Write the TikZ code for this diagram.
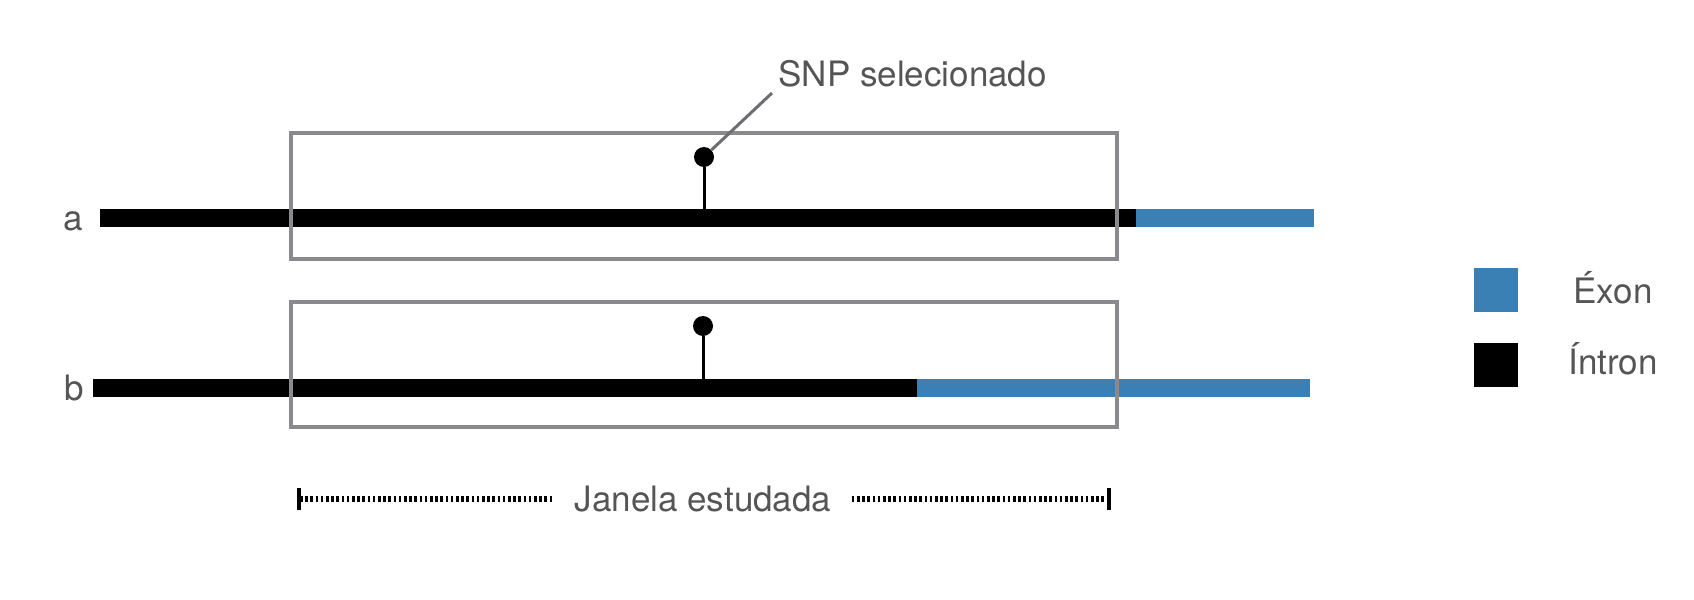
\documentclass[tikz,border=0pt]{standalone}
\usepackage{fontspec}
\setmainfont{TeX Gyre Heros}
\usetikzlibrary{positioning,arrows.meta}
\definecolor{exonblue}{RGB}{59,128,180}
\definecolor{txtgray}{RGB}{85,85,85}
\definecolor{boxgray}{RGB}{138,138,142}

\begin{document}
\begin{tikzpicture}[x=0.5pt, y=-0.5pt,
  lbl/.style={font=\fontsize{17.5}{20}\selectfont, text=txtgray, inner sep=0pt},
  win/.style={draw=boxgray, line width=1.6pt},
  intron/.style={fill=black},
  exon/.style={fill=exonblue},
  snp/.style={circle, fill=black, inner sep=0pt, minimum size=10pt},
  stem/.style={line width=1.5pt},
  leader/.style={draw=boxgray!80!black, line width=1.5pt},
  ruler/.style={line width=2.6pt, dash pattern=on 1.3pt off 1.3pt},
  key/.style={minimum size=22pt, inner sep=0pt}]
  \useasboundingbox (0,0) rectangle (1694,600);
  % sequence a
  \node[lbl, anchor=base] (la) at (73,230) {a};
  \fill[intron] (100,209) rectangle (1136,227);
  \fill[exon] (1136,209) rectangle (1314,227);
  \draw[win] (291,133) rectangle (1117,259);
  \node[snp] (s1) at (704,157) {};
  \coordinate (t1) at (704,209);
  \draw[stem] (s1) -- (t1);
  % sequence b
  \node[lbl, anchor=base] (lb) at (74,400) {b};
  \fill[intron] (93,379) rectangle (917,397);
  \fill[exon] (917,379) rectangle (1310,397);
  \draw[win] (291,302) rectangle (1117,427);
  \node[snp] (s2) at (703,326) {};
  \coordinate (t2) at (703,379);
  \draw[stem] (s2) -- (t2);
  % label of the SNP
  \node[lbl, anchor=base west] (snpl) at (778,86) {SNP selecionado};
  \coordinate (lead) at (772,93);
  \draw[leader] (s1) -- (lead);
  % studied window
  \node[lbl, anchor=base, inner xsep=10pt] (jan) at (703,511) {Janela estudada};
  \coordinate (jl) at (297,499);
  \coordinate (jr) at (1111,499);
  \draw[ruler, {Bar[width=11pt, line width=2pt]}-] (jl) -- (jan.west |- jl);
  \draw[ruler, -{Bar[width=11pt, line width=2pt]}] (jan.east |- jr) -- (jr);
  % legend
  \node[key, fill=exonblue] (kex) at (1496,290) {};
  \node[key, fill=black] (kin) at (1496,365) {};
  \node[lbl, anchor=base] (tex) at (1613,303) {Éxon};
  \node[lbl, anchor=base] (tin) at (1613,374) {Íntron};
\end{tikzpicture}
\end{document}
